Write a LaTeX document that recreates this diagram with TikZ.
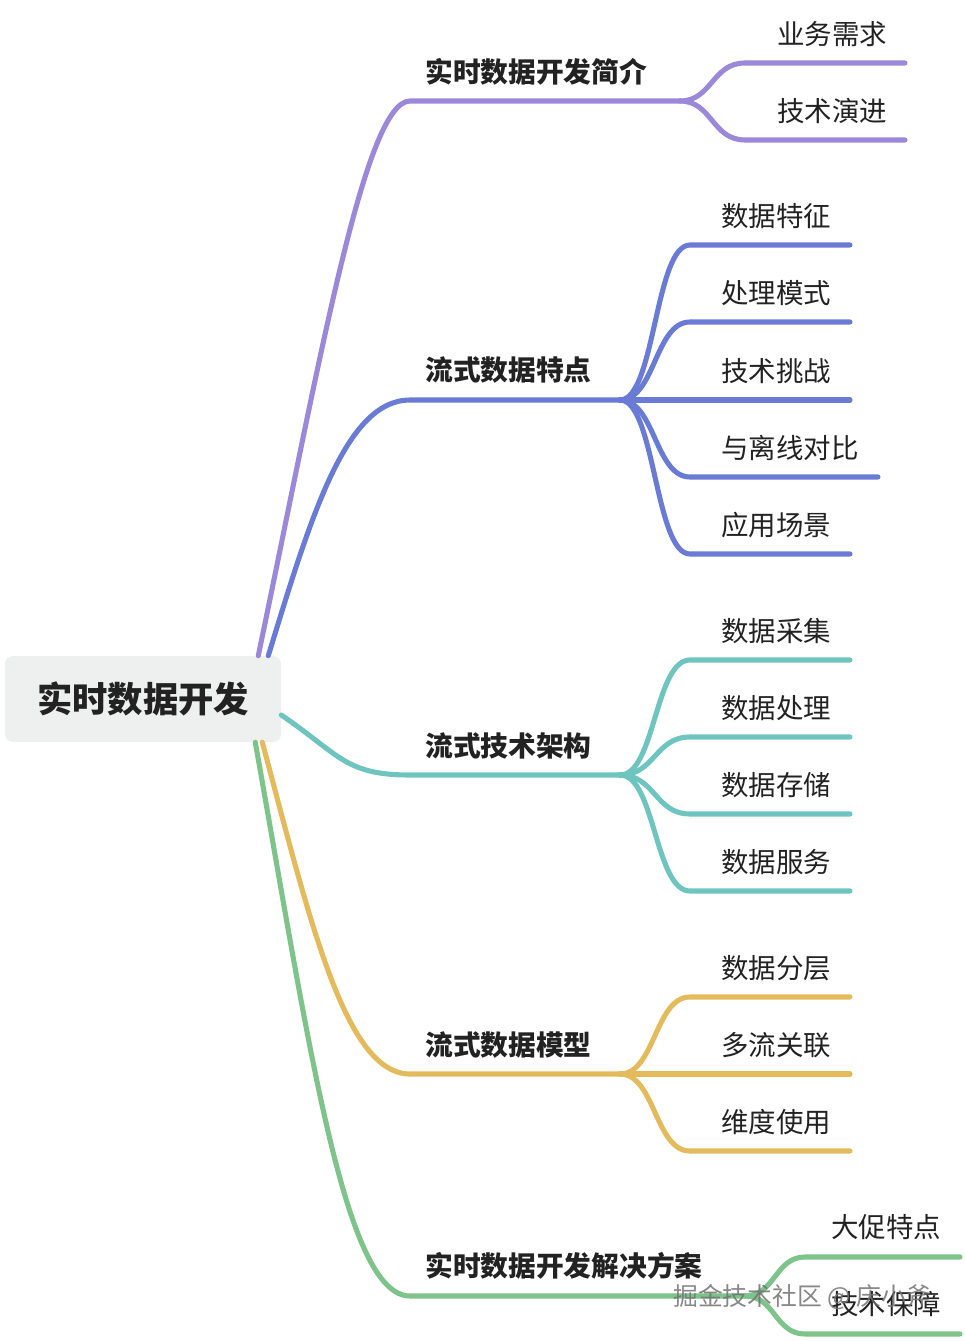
\documentclass[tikz,border=0pt]{standalone}
\usepackage{fontspec}
\setmainfont{Noto Sans CJK SC}
\definecolor{cP}{HTML}{9B88D9}
\definecolor{cB}{HTML}{6A7BD6}
\definecolor{cT}{HTML}{6EC4BE}
\definecolor{cY}{HTML}{E3BA5C}
\definecolor{cG}{HTML}{7DC38A}
\definecolor{rootfill}{HTML}{EEF0EF}
\definecolor{ink}{HTML}{222222}
\begin{document}
\begin{tikzpicture}[x=0.75pt,y=-0.75pt,
  branch/.style={line width=3.8pt, line cap=round},
  rootbox/.style={fill=rootfill, rounded corners=6pt, minimum width=207pt, minimum height=64.5pt, inner sep=0pt,
    font=\bfseries\fontsize{26.5}{30}\selectfont, text=ink},
  lvlone/.style={anchor=west, inner sep=0pt, font=\bfseries\fontsize{20.8}{24}\selectfont, text=ink},
  leaf/.style={anchor=west, inner sep=0pt, font=\fontsize{20.6}{24}\selectfont, text=ink},
  wmark/.style={anchor=west, inner sep=0pt, font=\fontsize{18.6}{22}\selectfont, text=black!55, opacity=0.85}]
\useasboundingbox (0,0) rectangle (964,1341);
\fill[white] (0,0) rectangle (964,1341);

% root
\node[rootbox] (root) at (143,699) {实时数据开发};

% ---------- purple branch ----------
\coordinate (p0) at ([xshift=-17.25pt]root.north east);
\coordinate (pa) at (410,101);
\coordinate (pj) at (680,101);
\node[lvlone] (P) at (425,72) {实时数据开发简介};
\draw[branch,cP] (p0) .. controls (320,360) and (365,101) .. (pa) -- (pj);
\coordinate (p1a) at (745,63);  \coordinate (p1e) at (905,63);
\coordinate (p2a) at (745,140); \coordinate (p2e) at (905,140);
\node[leaf] (P1) at (777,34) {业务需求};
\node[leaf] (P2) at (777,111) {技术演进};
\draw[branch,cP] (pj) .. controls (712,101) and (712,63) .. (p1a) -- (p1e);
\draw[branch,cP] (pj) .. controls (712,101) and (712,140) .. (p2a) -- (p2e);

% ---------- blue branch ----------
\coordinate (b0) at ([xshift=-9.75pt]root.north east);
\coordinate (ba) at (410,400);
\coordinate (bj) at (620,400);
\node[lvlone] (B) at (425,370) {流式数据特点};
\draw[branch,cB] (b0) .. controls (310,520) and (345,400) .. (ba) -- (bj);
\foreach \y/\e/\t [count=\i] in {245/850/数据特征, 322/850/处理模式, 400/850/技术挑战, 477/878/与离线对比, 554/850/应用场景}{
  \coordinate (b\i a) at (690,\y);
  \coordinate (b\i e) at (\e,\y);
  \node[leaf] (B\i) at (721,\y-29) {\t};
  \draw[branch,cB] (bj) .. controls (655,400) and (655,\y) .. (b\i a) -- (b\i e);
}

% ---------- teal branch ----------
\coordinate (t0) at ([yshift=-12pt]root.east);
\coordinate (ta) at (410,775);
\coordinate (tj) at (620,775);
\node[lvlone] (T) at (425,746) {流式技术架构};
\draw[branch,cT] (t0) .. controls (340,755) and (345,775) .. (ta) -- (tj);
\foreach \y/\t [count=\i] in {660/数据采集, 737/数据处理, 814/数据存储, 891/数据服务}{
  \coordinate (t\i a) at (690,\y);
  \coordinate (t\i e) at (850,\y);
  \node[leaf] (T\i) at (721,\y-29) {\t};
  \draw[branch,cT] (tj) .. controls (655,775) and (655,\y) .. (t\i a) -- (t\i e);
}

% ---------- yellow branch ----------
\coordinate (y0) at ([xshift=-14.25pt]root.south east);
\coordinate (ya) at (410,1074);
\coordinate (yj) at (620,1074);
\node[lvlone] (Y) at (425,1045) {流式数据模型};
\draw[branch,cY] (y0) .. controls (310,920) and (345,1074) .. (ya) -- (yj);
\foreach \y/\t [count=\i] in {997/数据分层, 1074/多流关联, 1151/维度使用}{
  \coordinate (y\i a) at (690,\y);
  \coordinate (y\i e) at (850,\y);
  \node[leaf] (Y\i) at (721,\y-29) {\t};
  \draw[branch,cY] (yj) .. controls (655,1074) and (655,\y) .. (y\i a) -- (y\i e);
}

% ---------- green branch ----------
\coordinate (g0) at ([xshift=-19.5pt]root.south east);
\coordinate (ga) at (410,1296);
\coordinate (gj) at (745,1296);
\node[lvlone] (G) at (425,1266) {实时数据开发解决方案};
\draw[branch,cG] (g0) .. controls (310,1050) and (345,1296) .. (ga) -- (gj);
\coordinate (g1a) at (805,1257); \coordinate (g1e) at (960,1257);
\coordinate (g2a) at (805,1334); \coordinate (g2e) at (960,1334);
\node[leaf] (G1) at (831,1227) {大促特点};
\node[leaf] (G2) at (831,1304) {技术保障};
\draw[branch,cG] (gj) .. controls (775,1296) and (775,1257) .. (g1a) -- (g1e);
\draw[branch,cG] (gj) .. controls (775,1296) and (775,1334) .. (g2a) -- (g2e);

% watermark
\node[wmark] (wm) at (673,1297) {掘金技术社区 @ 庆小斧};
\end{tikzpicture}
\end{document}
